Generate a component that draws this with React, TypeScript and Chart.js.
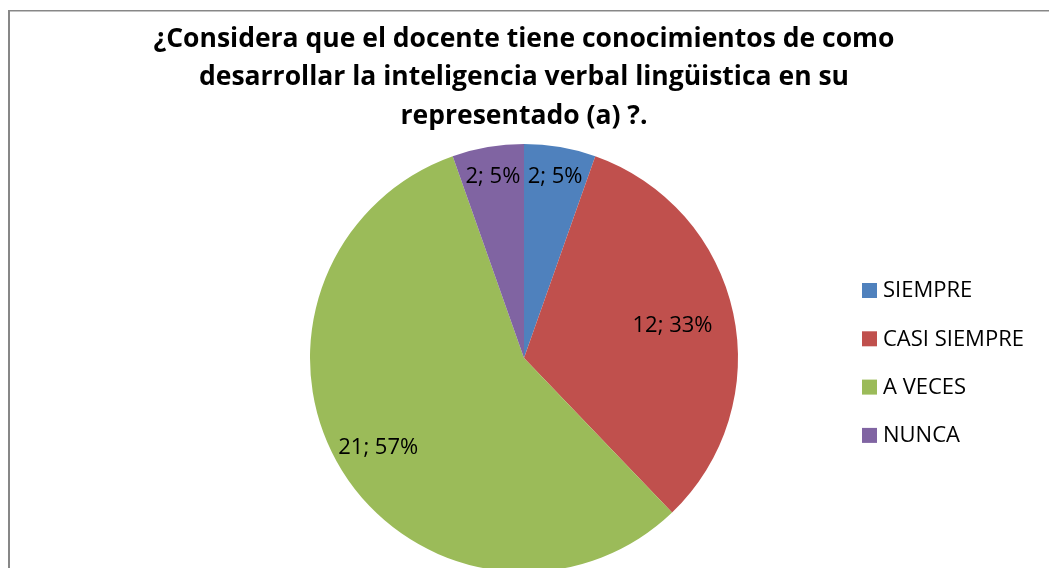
import React, { useEffect, useRef } from "react";
import { Chart, registerables } from "chart.js";

Chart.register(...registerables);

const categories = ["SIEMPRE", "CASI SIEMPRE", "A VECES", "NUNCA"];
const counts = [2, 12, 21, 2];
const percents = [5, 33, 57, 5];
const colors = ["#4F81BD", "#C0504D", "#9BBB59", "#8064A2"];
const titleLines = [
  "¿Considera que el docente tiene conocimientos de como",
  "desarrollar la inteligencia verbal lingüistica en su",
  "representado (a) ?.",
];

const FONT = "'Open Sans', Lato, sans-serif";
const labelDistance = [0.86, 0.71, 0.8, 0.86];

const borderPlugin = {
  id: "frame",
  beforeDraw(chart: any) {
    const ctx = chart.ctx;
    ctx.save();
    ctx.fillStyle = "#ffffff";
    ctx.fillRect(0, 0, chart.width, chart.height);
    ctx.fillStyle = "#878787";
    ctx.fillRect(8, 10, 2, chart.height);
    ctx.fillRect(8, 10, chart.width, 1.5);
    ctx.restore();
  },
};

const labelPlugin = {
  id: "sliceLabels",
  afterDatasetsDraw(chart: any) {
    const ctx = chart.ctx;
    const meta = chart.getDatasetMeta(0);
    ctx.save();
    ctx.font = `22px ${FONT}`;
    ctx.fillStyle = "#000";
    ctx.textAlign = "center";
    ctx.textBaseline = "middle";
    meta.data.forEach((arc: any, i: number) => {
      const { x, y, startAngle, endAngle, outerRadius } = arc.getProps(
        ["x", "y", "startAngle", "endAngle", "outerRadius"],
        true
      );
      const mid = (startAngle + endAngle) / 2;
      const d = outerRadius * labelDistance[i];
      const text = `${counts[i]}; ${percents[i]}%`;
      ctx.fillText(text, x + Math.cos(mid) * d, y + Math.sin(mid) * d);
    });
    ctx.restore();
  },
};

const legendPlugin = {
  id: "sideLegend",
  afterDraw(chart: any) {
    const ctx = chart.ctx;
    ctx.save();
    ctx.font = `22px ${FONT}`;
    ctx.textBaseline = "middle";
    ctx.textAlign = "left";
    chart.data.labels.forEach((lab: string, i: number) => {
      const top = 283 + i * 48.3;
      ctx.fillStyle = colors[i];
      ctx.fillRect(862, top, 15, 15);
      ctx.fillStyle = "#000";
      ctx.fillText(lab, 883, top + 8);
    });
    ctx.restore();
  },
};

export default function App() {
  const ref = useRef<HTMLCanvasElement | null>(null);
  useEffect(() => {
    if (!ref.current) return;
    const chart = new Chart(ref.current, {
      type: "pie",
      data: {
        labels: categories,
        datasets: [
          {
            data: counts,
            backgroundColor: colors,
            borderWidth: 0,
          },
        ],
      },
      options: {
        responsive: false,
        animation: false,
        devicePixelRatio: 1,
        layout: { padding: { top: 0, left: 100, right: 101, bottom: 28 } },
        plugins: {
          legend: { display: false },
          tooltip: { enabled: false },
          title: {
            display: true,
            text: titleLines,
            color: "#000",
            font: { family: FONT, size: 26.5, weight: "bold", lineHeight: "38.5px" },
            padding: { top: 20, bottom: 8.5 },
          },
        },
      },
      plugins: [borderPlugin, labelPlugin, legendPlugin],
    });
    return () => chart.destroy();
  }, []);
  return (
    <div style={{ position: "fixed", left: 0, top: 0, width: 1049, height: 600 }}>
      <canvas ref={ref} width={1049} height={600} />
    </div>
  );
}
